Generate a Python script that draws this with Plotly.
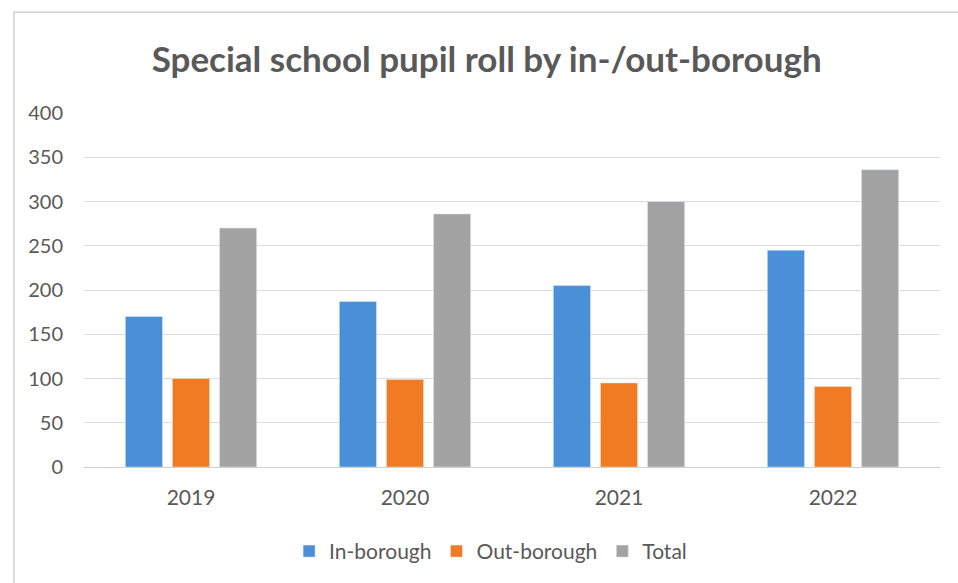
import plotly.graph_objects as go

years = ["2019", "2020", "2021", "2022"]
in_borough = [170, 187, 205, 245]
out_borough = [100, 99, 95, 91]
total = [270, 286, 300, 336]

y_ticks = [0, 50, 100, 150, 200, 250, 300, 350, 400]

FONT = "Lato, 'Open Sans', sans-serif"
TEXT = "#595959"

fig = go.Figure()
fig.add_trace(go.Bar(x=years, y=in_borough, name="In-borough", marker_color="#4a8fd8"))
fig.add_trace(go.Bar(x=years, y=out_borough, name="Out-borough", marker_color="#f07b22"))
fig.add_trace(go.Bar(x=years, y=total, name="Total", marker_color="#a3a3a3"))

W, H = 958, 583
ml, mr, mt, mb = 84, 18, 113, 115
pw, ph = W - ml - mr, H - mt - mb

# light frame around the chart area
fig.add_shape(type="rect", xref="paper", yref="paper",
              x0=(14 - ml) / pw, x1=(W + 5 - ml) / pw,
              y0=-(H + 5 - mt - ph) / ph, y1=(H - mt - 14) / ph,
              line=dict(color="#d0d0d0", width=1.5), layer="below")

fig.update_layout(
    width=W, height=H,
    margin=dict(l=ml, r=mr, t=mt, b=mb),
    paper_bgcolor="white", plot_bgcolor="white",
    barmode="group", bargap=0.34, bargroupgap=0.21,
    title=dict(text="<b>Special school pupil roll by in-/out-borough</b>",
               x=0.508, xanchor="center", y=0.897, yanchor="middle",
               font=dict(family=FONT, size=35, color=TEXT)),
    font=dict(family=FONT, color=TEXT),
    legend=dict(orientation="h", x=0.475, xanchor="center", y=-0.235, yanchor="middle",
                font=dict(size=21, color=TEXT), itemwidth=30),
    showlegend=True,
)
fig.update_yaxes(range=[0, 400], tickvals=y_ticks, showgrid=True, gridcolor="#dcdcdc",
                 gridwidth=1, zeroline=False, showline=False,
                 tickfont=dict(size=20, color=TEXT), ticks="", ticklabelstandoff=20)
fig.update_xaxes(showline=True, linecolor="#cfcfcf", linewidth=1, ticks="",
                 tickfont=dict(size=21, color=TEXT), ticklabelstandoff=12)

fig.write_html("out.html")
